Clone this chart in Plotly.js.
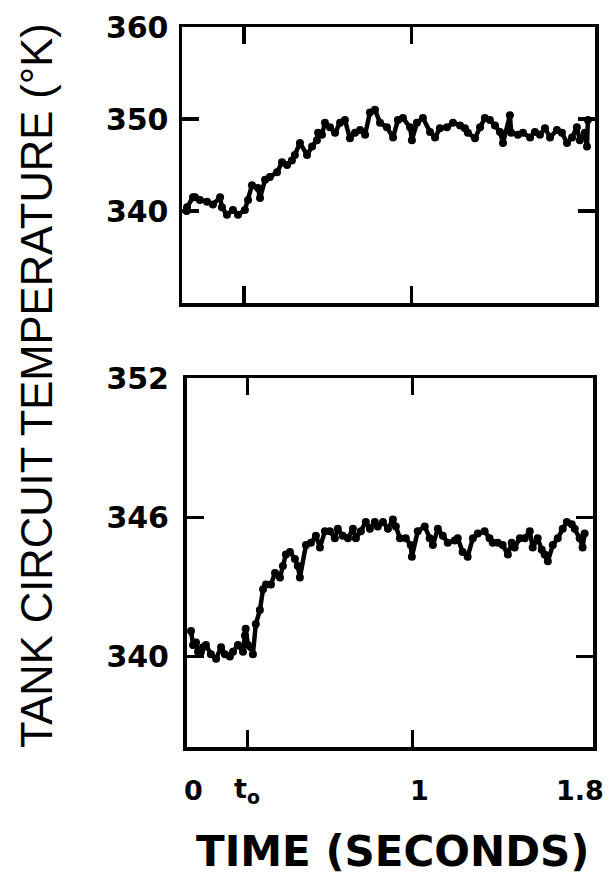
<!DOCTYPE html>
<html>
<head>
<meta charset="utf-8">
<script src="https://cdn.plot.ly/plotly-3.0.1.min.js"></script>
<style>html,body{margin:0;padding:0;background:#fff;}#chart{width:612px;height:891px;}</style>
</head>
<body>
<div id="chart"></div>
<script>
// ---- data ----
const T0 = 0.27; // t_o marker time (s)

const topTime = [0.020,0.022,0.048,0.057,0.078,0.109,0.135,0.166,0.174,0.196,0.222,0.244,0.274,0.288,0.305,0.331,0.340,0.362,0.383,0.414,0.436,0.458,0.479,0.492,0.514,0.545,0.567,0.588,0.593,0.610,0.623,
  0.645,0.667,0.689,0.710,0.732,0.754,0.776,0.798,0.819,0.841,0.863,0.893,0.920,0.941,0.963,0.994,1.002,1.024,1.050,1.081,1.103,1.124,1.155,1.181,1.212,1.233,
  1.246,1.277,1.299,1.320,1.342,1.364,1.386,1.399,1.429,1.435,1.464,1.486,1.517,1.538,1.560,1.582,1.604,1.634,1.656,1.678,1.700,1.721,1.734,1.756,1.765,1.769];
const topTemp = [340.0,340.4,341.5,341.5,341.2,341.0,340.7,341.5,340.4,339.6,340.1,339.6,340.1,341.2,342.8,342.5,341.4,343.4,343.7,344.2,345.3,345.0,345.5,346.1,347.4,346.1,347.0,347.7,348.5,348.3,349.6,
  349.1,348.5,349.6,349.9,347.9,348.5,348.8,348.3,350.7,351.0,349.6,349.1,348.0,349.9,350.1,349.1,347.7,349.6,350.1,348.6,348.0,349.0,349.1,349.6,349.3,349.0,
  348.5,347.9,349.1,350.1,349.9,349.3,348.6,347.4,350.4,348.5,348.3,348.5,348.0,348.6,348.3,349.0,348.0,348.8,348.5,347.4,348.0,349.1,347.7,348.5,347.0,349.9];

const botTime = [0.020,0.029,0.042,0.051,0.064,0.073,0.086,0.108,0.131,0.153,0.170,0.192,0.206,0.228,0.250,0.259,0.262,0.272,0.285,0.294,0.307,0.325,0.339,0.352,0.374,0.392,0.414,0.427,0.440,0.458,0.480,0.493,0.502,0.529,0.551,0.573,0.591,0.613,
  0.635,0.657,0.670,0.692,0.715,0.737,0.750,0.772,0.794,0.812,0.834,0.847,0.870,0.892,0.914,0.927,0.945,0.971,0.993,0.998,1.024,1.055,1.077,1.091,1.113,1.135,1.157,1.188,1.201,1.223,1.245,
  1.268,1.290,1.320,1.342,1.356,1.378,1.400,1.423,1.440,1.453,1.476,1.498,1.520,1.533,1.555,1.573,1.586,1.600,1.622,1.644,1.666,1.684,1.706,1.719,1.741,1.754,1.763];
const botTemp = [341.1,340.5,340.6,340.2,340.2,340.4,340.5,340.1,339.9,340.4,340.1,340.0,340.2,340.5,340.2,340.9,341.2,340.5,340.4,340.1,341.4,342.0,342.9,343.1,343.1,343.6,343.4,343.9,344.4,344.5,344.2,343.9,343.4,344.8,344.9,345.2,344.7,345.4,
  345.4,345.1,345.5,345.2,345.1,345.5,345.1,345.4,345.8,345.5,345.8,345.6,345.8,345.5,345.9,345.6,345.1,345.1,344.8,344.3,345.4,345.6,345.1,344.8,345.5,345.2,344.9,345.0,345.1,344.5,344.3,
  345.1,345.3,345.4,345.1,344.9,344.9,344.8,344.4,344.9,344.7,345.1,345.1,345.4,344.7,345.1,344.6,344.4,344.1,344.8,345.1,345.5,345.8,345.7,345.5,345.1,344.7,345.3];

const topYTicks = [340, 350, 360];
const botYTicks = [340, 346, 352];
const xTickVals = [T0, 1];
const xLabelVals = [0, T0, 1, 1.8];
const xLabelText = ['0', 't<sub>o</sub>', '1', '1.8'];
const yTitle = 'TANK CIRCUIT TEMPERATURE (°K)';
const xTitle = 'TIME (SECONDS)';

// ---- figure ----
const W = 612, H = 891;
const px = v => v / W, py = v => 1 - v / H;

const traceStyle = {
  type: 'scatter', mode: 'lines+markers',
  line: {color: 'black', width: 4.5},
  marker: {color: 'black', size: 8},
  hoverinfo: 'skip'
};
const traces = [
  Object.assign({x: topTime, y: topTemp, xaxis: 'x', yaxis: 'y'}, traceStyle),
  Object.assign({x: botTime, y: botTemp, xaxis: 'x2', yaxis: 'y2'}, traceStyle)
];

const tickFont = {family: 'DejaVu Sans', size: 30, color: 'black', weight: 'bold'};
const frame = {
  showline: true, linewidth: 3.5, linecolor: 'black', mirror: 'ticks',
  ticks: 'inside', ticklen: 17, tickwidth: 3.5, tickcolor: 'black',
  showgrid: false, zeroline: false, fixedrange: true
};

const layout = {
  width: W, height: H,
  margin: {l: 0, r: 0, t: 0, b: 0, pad: 0},
  paper_bgcolor: 'white', plot_bgcolor: 'white',
  showlegend: false,
  xaxis: Object.assign({}, frame, {domain: [px(182), px(595)], range: [0, 1.8], anchor: 'y',
    tickvals: xTickVals, showticklabels: false}),
  yaxis: Object.assign({}, frame, {domain: [py(303), py(27)], range: [330, 360], anchor: 'x',
    tickvals: topYTicks, ticktext: topYTicks.map(String), tickfont: tickFont, ticklabelstandoff: 4}),
  xaxis2: Object.assign({}, frame, {domain: [px(186.5), px(593)], range: [0, 1.8], anchor: 'y2',
    tickvals: xTickVals, showticklabels: false}),
  yaxis2: Object.assign({}, frame, {domain: [py(747), py(378)], range: [336.1, 352], anchor: 'x2',
    tickvals: botYTicks, ticktext: botYTicks.map(String), tickfont: tickFont, ticklabelstandoff: 8}),
  annotations: []
};

const xShifts = [7, 0, 7, -13];
xLabelVals.forEach((v, i) => {
  layout.annotations.push({
    xref: 'x2', yref: 'paper', x: v, y: py(790), xshift: xShifts[i],
    text: xLabelText[i], showarrow: false, xanchor: 'center', yanchor: 'middle',
    font: {family: 'DejaVu Sans', size: 27, color: 'black', weight: 'bold'}
  });
});
layout.annotations.push({
  xref: 'paper', yref: 'paper', x: px(37), y: py(386), textangle: -90,
  text: yTitle, showarrow: false, xanchor: 'center', yanchor: 'middle',
  font: {family: 'Liberation Sans', size: 43.5, color: 'black'}
});
layout.annotations.push({
  xref: 'paper', yref: 'paper', x: px(393), y: py(851),
  text: xTitle, showarrow: false, xanchor: 'center', yanchor: 'middle',
  font: {family: 'DejaVu Sans', size: 42, color: 'black', weight: 'bold'}
});

Plotly.newPlot('chart', traces, layout, {staticPlot: true, displayModeBar: false});
</script>
</body>
</html>
